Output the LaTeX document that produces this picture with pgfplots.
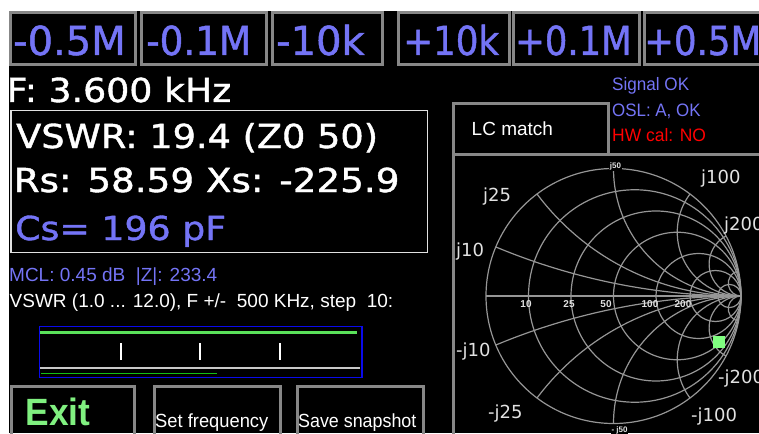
\documentclass[border=0pt]{standalone}
\usepackage{fontspec}
\usepackage{graphicx}
\usepackage{pgfplots}
\pgfplotsset{compat=1.18}
\setmainfont{Liberation Sans}
\newfontfamily\dejavu{DejaVu Sans}
\newfontfamily\dejavub[FakeBold=1.2]{DejaVu Sans}
\definecolor{btnblue}{RGB}{116,116,246}
\definecolor{btngray}{RGB}{135,135,135}
\definecolor{gridgray}{RGB}{150,150,150}
\definecolor{hwred}{RGB}{255,0,0}
\definecolor{mkgreen}{RGB}{128,255,128}
\definecolor{exitgreen}{RGB}{128,240,128}
\definecolor{linegreen}{RGB}{90,225,90}
\definecolor{darkgreen}{RGB}{20,190,20}
\definecolor{boxblue}{RGB}{10,10,235}
\definecolor{lbl}{RGB}{225,225,225}
\definecolor{basegray}{RGB}{200,200,200}
\newcommand{\fsz}[1]{\fontsize{#1}{#1}\selectfont}
\tikzset{sgrid/.style={gridgray, line width=1.2pt}}
\begin{document}
\begin{tikzpicture}
\useasboundingbox (0,0) rectangle (759pt,433pt);
\begin{scope}
\clip (0,0) rectangle (759pt,433pt);
% ---------------- pixel axis: screen, buttons, texts ----------------
\begin{axis}[at={(0pt,0pt)}, anchor=south west, width=759pt, height=433pt,
  scale only axis, xmin=0, xmax=759, ymin=0, ymax=433, y dir=reverse,
  hide axis, clip=false]
\fill[white] (axis cs:0,0) rectangle (axis cs:759,433);
\fill[black] (axis cs:9,11) rectangle (axis cs:759,433);
% top buttons
\draw[btngray, line width=3pt] (axis cs:10.5,13) rectangle (axis cs:135.8,64.8);
\draw[btngray, line width=3pt] (axis cs:141.5,13) rectangle (axis cs:266.8,64.8);
\draw[btngray, line width=3pt] (axis cs:272.5,13) rectangle (axis cs:382.8,64.8);
\draw[btngray, line width=3pt] (axis cs:398.5,13) rectangle (axis cs:509.8,64.8);
\draw[btngray, line width=3pt] (axis cs:513.5,13) rectangle (axis cs:639.8,64.8);
\draw[btngray, line width=3pt] (axis cs:644.5,13) rectangle (axis cs:800,64.8);
\node[anchor=base west, inner sep=0, text=btnblue, font=\dejavub\fsz{40}] at (axis cs:13,55) {\scalebox{1.0}[1]{-0.5M}};
\node[anchor=base west, inner sep=0, text=btnblue, font=\dejavub\fsz{40}] at (axis cs:146,55) {\scalebox{0.933}[1]{-0.1M}};
\node[anchor=base west, inner sep=0, text=btnblue, font=\dejavub\fsz{40}] at (axis cs:276,55) {\scalebox{1.0}[1]{-10k}};
\node[anchor=base west, inner sep=0, text=btnblue, font=\dejavub\fsz{40}] at (axis cs:403,55) {\scalebox{0.892}[1]{+10k}};
\node[anchor=base west, inner sep=0, text=btnblue, font=\dejavub\fsz{40}] at (axis cs:515,55) {\scalebox{0.885}[1]{+0.1M}};
\node[anchor=base west, inner sep=0, text=btnblue, font=\dejavub\fsz{40}] at (axis cs:644,55) {\scalebox{0.889}[1]{+0.5M}};
% frequency and measurement box
\node[anchor=base west, inner sep=0, text=white, font=\dejavub\fsz{33}] at (axis cs:6.5,102) {\scalebox{1.1}[1]{F: 3.600 kHz}};
\draw[lbl, line width=1.5pt] (axis cs:10.8,110.5) rectangle (axis cs:427.5,252.5);
\node[anchor=base west, inner sep=0, text=white, font=\dejavub\fsz{33}] at (axis cs:16,148) {\scalebox{1.112}[1]{VSWR: 19.4 (Z0 50)}};
\node[anchor=base west, inner sep=0, text=white, font=\dejavub\fsz{33}] at (axis cs:13.5,192) {\scalebox{1.13}[1]{Rs: 58.59 Xs: -225.9}};
\node[anchor=base west, inner sep=0, text=btnblue, font=\dejavub\fsz{33}] at (axis cs:15,240) {\scalebox{1.10}[1]{Cs= 196 pF}};
\node[anchor=base west, inner sep=0, text=btnblue, font=\fsz{19}] at (axis cs:9,281) {MCL: 0.45 dB\ \ |Z|: 233.4};
\node[anchor=base west, inner sep=0, text=white, font=\fsz{19}] at (axis cs:9.5,307) {VSWR (1.0 ... 12.0), F +/-\ \ 500 KHz, step\ \ 10:};
% VSWR strip decorations
\draw[boxblue, line width=1.5pt] (axis cs:39.5,326.5) rectangle (axis cs:362,377.5);
\draw[basegray, line width=2pt] (axis cs:40,368.3) -- (axis cs:360,368.3);
\draw[darkgreen, line width=1.6pt] (axis cs:41,373.3) -- (axis cs:217,373.3);
\draw[white, line width=1.5pt] (axis cs:121,343) -- (axis cs:121,360);
\draw[white, line width=1.5pt] (axis cs:200,343) -- (axis cs:200,360);
\draw[white, line width=1.5pt] (axis cs:280,343) -- (axis cs:280,360);
% bottom buttons
\draw[btngray, line width=3pt] (axis cs:11.5,386.5) rectangle (axis cs:134.5,440);
\draw[btngray, line width=3pt] (axis cs:154.2,386) rectangle (axis cs:280.5,440);
\draw[btngray, line width=3pt] (axis cs:297.2,386) rectangle (axis cs:423.5,440);
\node[anchor=base west, inner sep=0, text=exitgreen, font=\bfseries\fsz{38}] at (axis cs:25.5,425) {\scalebox{0.93}[1]{Exit}};
\node[anchor=base west, inner sep=0, text=white, font=\fsz{19}] at (axis cs:155,427) {\scalebox{0.965}[1]{Set frequency}};
\node[anchor=base west, inner sep=0, text=white, font=\fsz{19}] at (axis cs:298,427) {\scalebox{0.94}[1]{Save snapshot}};
% right panel
\draw[btngray, line width=3pt] (axis cs:453.5,103.5) rectangle (axis cs:608.5,154);
\draw[btngray, line width=3pt] (axis cs:453.5,154) rectangle (axis cs:770,440);
\node[anchor=base west, inner sep=0, text=white, font=\fsz{19}] at (axis cs:471.5,135) {LC match};
\node[anchor=base west, inner sep=0, text=btnblue, font=\fsz{18}] at (axis cs:612,90.5) {\scalebox{0.95}[1]{Signal OK}};
\node[anchor=base west, inner sep=0, text=btnblue, font=\fsz{18}] at (axis cs:612,116.7) {\scalebox{0.94}[1]{OSL: A, OK}};
\node[anchor=base west, inner sep=0, text=hwred, font=\fsz{18}] at (axis cs:612,141.7) {\scalebox{0.97}[1]{HW cal: NO}};
\end{axis}
% ---------------- VSWR sweep strip ----------------
\begin{axis}[at={(40pt,64.7pt)}, anchor=south west, width=320pt, height=35.6pt,
  scale only axis, xmin=-500, xmax=500, ymin=1, ymax=12, hide axis, clip=false]
\addplot[linegreen, line width=3.2pt] coordinates {(-500,12) (-400,12) (-300,12) (-200,12) (-100,12) (0,12) (100,12) (200,12) (300,12) (400,12) (490,12)};
\end{axis}
% ---------------- Smith chart ----------------
\begin{axis}[at={(486pt,9.5pt)}, anchor=south west, width=255pt, height=255pt,
  scale only axis, xmin=-1, xmax=1, ymin=-1, ymax=1, hide axis, clip=false]
\draw[sgrid] (axis cs:0,0) circle [radius=127.5pt];
\draw[sgrid] (axis cs:-1,0) -- (axis cs:1,0);
% constant resistance circles (10, 25, 50, 100, 200, 500 ohm)
\draw[sgrid] (axis cs:0.16667,0) circle [radius=106.25pt];
\draw[sgrid] (axis cs:0.33333,0) circle [radius=85pt];
\draw[sgrid] (axis cs:0.5,0) circle [radius=63.75pt];
\draw[sgrid] (axis cs:0.66667,0) circle [radius=42.5pt];
\draw[sgrid] (axis cs:0.8,0) circle [radius=25.5pt];
\draw[sgrid] (axis cs:0.90909,0) circle [radius=11.591pt];
% constant reactance arcs
\draw[sgrid] (axis cs:-0.92308,0.38462) arc [start angle=247.380, end angle=270, radius=637.5pt];
\draw[sgrid] (axis cs:-0.92308,-0.38462) arc [start angle=-247.380, end angle=-270, radius=637.5pt];
\draw[sgrid] (axis cs:-0.6,0.8) arc [start angle=216.870, end angle=270, radius=255pt];
\draw[sgrid] (axis cs:-0.6,-0.8) arc [start angle=-216.870, end angle=-270, radius=255pt];
\draw[sgrid] (axis cs:0,1) arc [start angle=180, end angle=270, radius=127.5pt];
\draw[sgrid] (axis cs:0,-1) arc [start angle=-180, end angle=-270, radius=127.5pt];
\draw[sgrid] (axis cs:0.6,0.8) arc [start angle=143.130, end angle=270, radius=63.75pt];
\draw[sgrid] (axis cs:0.6,-0.8) arc [start angle=-143.130, end angle=-270, radius=63.75pt];
\draw[sgrid] (axis cs:0.88235,0.47059) arc [start angle=118.072, end angle=270, radius=31.875pt];
\draw[sgrid] (axis cs:0.88235,-0.47059) arc [start angle=-118.072, end angle=-270, radius=31.875pt];
\draw[sgrid] (axis cs:0.980198,0.19802) arc [start angle=101.421, end angle=270, radius=12.75pt];
\draw[sgrid] (axis cs:0.980198,-0.19802) arc [start angle=-101.421, end angle=-270, radius=12.75pt];
% measured point: Z = 58.59 - j225.9 ohm, Z0 = 50
\addplot[only marks, mark=square*, mark size=5.5pt, color=mkgreen] coordinates {(0.8271,-0.3596)};
\end{axis}
% ---------------- Smith chart labels ----------------
\begin{axis}[at={(0pt,0pt)}, anchor=south west, width=759pt, height=433pt,
  scale only axis, xmin=0, xmax=759, ymin=0, ymax=433, y dir=reverse,
  hide axis, clip=false]
\node[anchor=base, inner sep=0.8pt, fill=black, text=lbl, font=\bfseries\fsz{8}] at (axis cs:615.5,168.3) {j50};
\node[anchor=base, inner sep=0.8pt, fill=black, text=lbl, font=\bfseries\fsz{8}] at (axis cs:619.5,432) {- j50};
\node[anchor=base west, inner sep=0, text=lbl, font=\dejavu\fsz{18}] at (axis cs:701,183.3) {j100};
\node[anchor=base west, inner sep=0, text=lbl, font=\dejavu\fsz{18}] at (axis cs:483,201.7) {j25};
\node[anchor=base west, inner sep=0, text=lbl, font=\dejavu\fsz{18}] at (axis cs:724,230) {j200};
\node[anchor=base west, inner sep=0, text=lbl, font=\dejavu\fsz{18}] at (axis cs:456,256) {j10};
\node[anchor=base west, inner sep=0, text=lbl, font=\dejavu\fsz{18}] at (axis cs:456,356.7) {-j10};
\node[anchor=base west, inner sep=0, text=lbl, font=\dejavu\fsz{18}] at (axis cs:718,383) {-j200};
\node[anchor=base west, inner sep=0, text=lbl, font=\dejavu\fsz{18}] at (axis cs:488,418) {-j25};
\node[anchor=base west, inner sep=0, text=lbl, font=\dejavu\fsz{18}] at (axis cs:691,421.7) {-j100};
\node[anchor=base, inner sep=0, text=lbl, font=\bfseries\fsz{10}] at (axis cs:526,307) {10};
\node[anchor=base, inner sep=0, text=lbl, font=\bfseries\fsz{10}] at (axis cs:569,307) {25};
\node[anchor=base, inner sep=0, text=lbl, font=\bfseries\fsz{10}] at (axis cs:606,307) {50};
\node[anchor=base, inner sep=0, text=lbl, font=\bfseries\fsz{10}] at (axis cs:650,307) {100};
\node[anchor=base, inner sep=0, text=lbl, font=\bfseries\fsz{10}] at (axis cs:683,307) {200};
\end{axis}
\end{scope}
\end{tikzpicture}
\end{document}
